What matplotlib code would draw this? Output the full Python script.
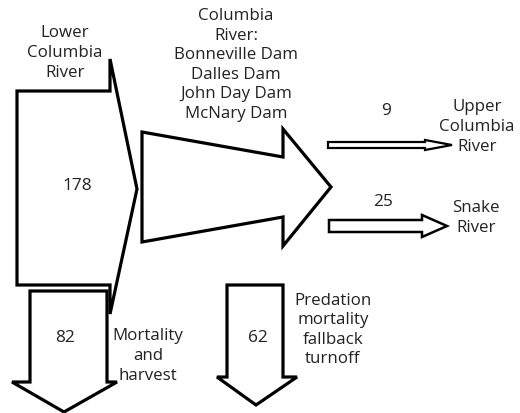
import matplotlib
matplotlib.use("Agg")
import matplotlib.pyplot as plt
from matplotlib.patches import Polygon

# flow values (fish counts) and their labels
flow_values = [178, 82, 62, 9, 25]
flow_names = ["lower", "harvest", "predation", "upper", "snake"]
place_labels = [
    "Lower\nColumbia\nRiver",
    "Columbia\nRiver:\nBonneville Dam\nDalles Dam\nJohn Day Dam\nMcNary Dam",
    "Upper\nColumbia\nRiver",
    "Snake\nRiver",
    "Mortality\nand\nharvest",
    "Predation\nmortality\nfallback\nturnoff",
]

# arrow outlines in pixel space of the original figure
SHAPES = {
    "lower": [(17, 92), (110, 92), (110, 60), (137, 190), (110, 315),
              (110, 286), (17, 286)],
    "middle": [(142, 133), (283, 158), (283, 130), (331, 188), (283, 247),
               (283, 218), (142, 243)],
    "harvest": [(30, 292), (107, 292), (107, 383), (117, 383), (64, 413),
                (12, 383), (30, 383)],
    "predation": [(227, 286), (283, 286), (283, 378), (297, 378), (256, 406),
                  (217, 378), (227, 378)],
    "upper": [(328, 143), (425, 143), (425, 141), (452, 146), (425, 151),
              (425, 149), (328, 149)],
    "snake": [(329, 221), (422, 221), (422, 216), (447, 227), (422, 238),
              (422, 233), (329, 233)],
}
VALUE_POS = {"lower": (77, 186), "harvest": (65, 338), "predation": (258, 338),
             "upper": (386, 111), "snake": (383, 202)}
LABEL_POS = [(65, 53), (236, 65), (477, 127), (476, 218), (148, 356), (333, 330)]
LW = {"upper": 1.6, "snake": 1.8}

plt.rcParams["font.family"] = ["Open Sans", "DejaVu Sans"]
fig = plt.figure(figsize=(5.2, 4.14), dpi=100)
ax = fig.add_axes([0, 0, 1, 1])
ax.set_xlim(0, 520)
ax.set_ylim(414, 0)
ax.axis("off")

for name, pts in SHAPES.items():
    ax.add_patch(Polygon(pts, closed=True, fc="white", ec="black",
                         lw=LW.get(name, 2.3), joinstyle="miter"))

for name, val in zip(flow_names, flow_values):
    x, y = VALUE_POS[name]
    ax.text(x, y, str(val), ha="center", va="center", fontsize=12.4,
            color="#222222")

for (x, y), lab in zip(LABEL_POS, place_labels):
    ax.text(x, y, lab, ha="center", va="center", fontsize=12.2,
            linespacing=1.3, color="#222222")

fig.savefig("out.png", dpi=100)
